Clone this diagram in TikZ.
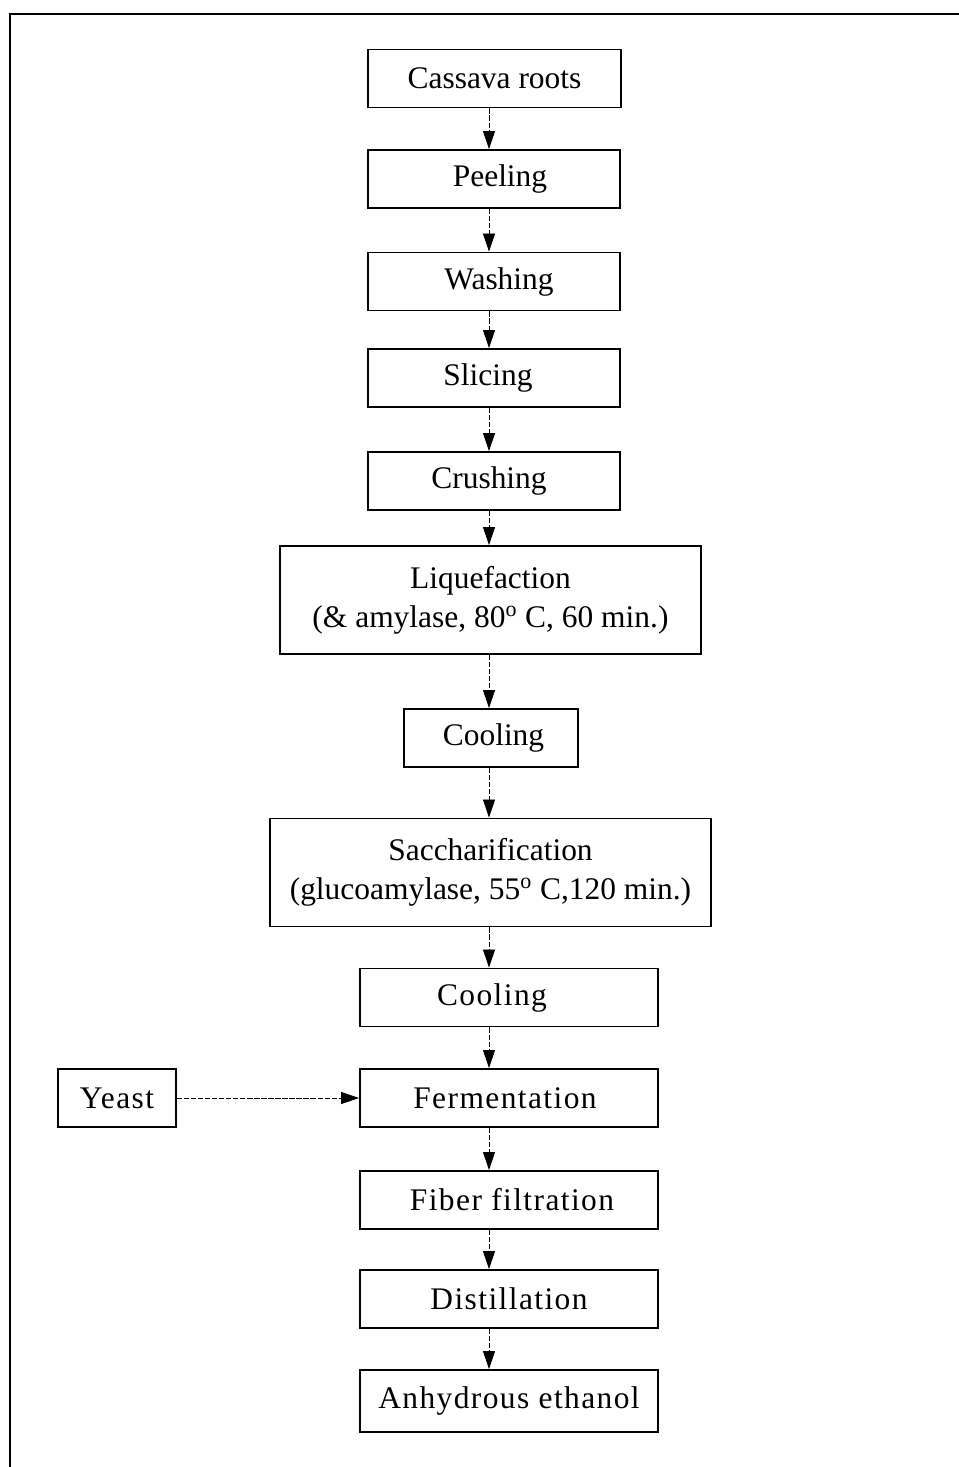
\documentclass[tikz,border=0pt]{standalone}
\usepackage{fontspec}
\setmainfont{Liberation Serif}
\newfontfamily\spacedserif[LetterSpace=4.5]{Liberation Serif}
\usetikzlibrary{arrows.meta}
\newlength\pxu
\setlength\pxu{0.02cm}
% centre a one-line label #1 pixels off the middle of its box
\newcommand\nudge[2]{\makebox[0pt]{\hspace{#1\pxu}\hspace{#1\pxu}#2}}
\begin{document}
\begin{tikzpicture}[x=0.02cm, y=-0.02cm,
  stepbox/.style={draw, line width=1.1pt, rectangle, inner sep=0pt,
    minimum height=1.16cm, font=\fontsize{17.9}{22.3}\selectfont},
  lowbox/.style={stepbox, font=\fontsize{17.9}{22.3}\spacedserif},
  twoline/.style={stepbox, align=center, minimum height=2.16cm},
  flow/.style={line width=0.5pt, dash pattern=on 3pt off 1pt,
    -{Triangle[length=0.36cm, width=0.24cm]}},
  frameline/.style={line width=1.4pt}]
\useasboundingbox (0,0) rectangle (959,1467);

% open frame: left side and top
\draw[frameline] (10,1467) -- (10,14) -- (959,14);

% process steps
\node[stepbox, minimum width=5.06cm] (roots) at (494.5,78.5) {Cassava roots};
\node[stepbox, minimum width=5.04cm] (peel)  at (494,179)  {\nudge{6}{Peeling}};
\node[stepbox, minimum width=5.04cm] (wash)  at (494,281.5) {\nudge{5}{Washing}};
\node[stepbox, minimum width=5.04cm] (slice) at (494,378)  {\nudge{-6}{Slicing}};
\node[stepbox, minimum width=5.04cm] (crush) at (494,481)  {\nudge{-5}{Crushing}};
\node[twoline, minimum width=8.42cm] (liq) at (490.5,600)
  {Liquefaction\\(\& amylase, 80\textsuperscript{o} C, 60 min.)};
\node[stepbox, minimum width=3.48cm] (cool1) at (491,738) {\nudge{2.5}{Cooling}};
\node[twoline, minimum width=8.82cm] (sacch) at (490.5,872.5)
  {Saccharification\\(glucoamylase, 55\textsuperscript{o} C,120 min.)};
\node[lowbox, minimum width=5.96cm] (cool2) at (509,997.5) {\nudge{-17}{Cooling}};
\node[lowbox, minimum width=5.96cm] (ferm)  at (509,1098)  {\nudge{-4}{Fermentation}};
\node[lowbox, minimum width=5.96cm] (fiber) at (509,1200)  {\nudge{3}{Fiber filtration}};
\node[lowbox, minimum width=5.96cm] (dist)  at (509,1299)  {Distillation};
\node[lowbox, minimum width=5.96cm, minimum height=1.24cm] (ethanol) at (509,1401)
  {Anhydrous ethanol};
\node[lowbox, minimum width=2.36cm] (yeast) at (117,1098) {Yeast};

% main line of the flow
\coordinate (spine) at (489,0);
\foreach \a/\b in {roots/peel, peel/wash, wash/slice, slice/crush, crush/liq,
                   liq/cool1, cool1/sacch, sacch/cool2, cool2/ferm,
                   ferm/fiber, fiber/dist, dist/ethanol}
  \draw[flow] (\a.south -| spine) -- (\b.north -| spine);

% yeast fed into fermentation
\draw[flow] (yeast.east) -- (ferm.west);
\end{tikzpicture}
\end{document}
